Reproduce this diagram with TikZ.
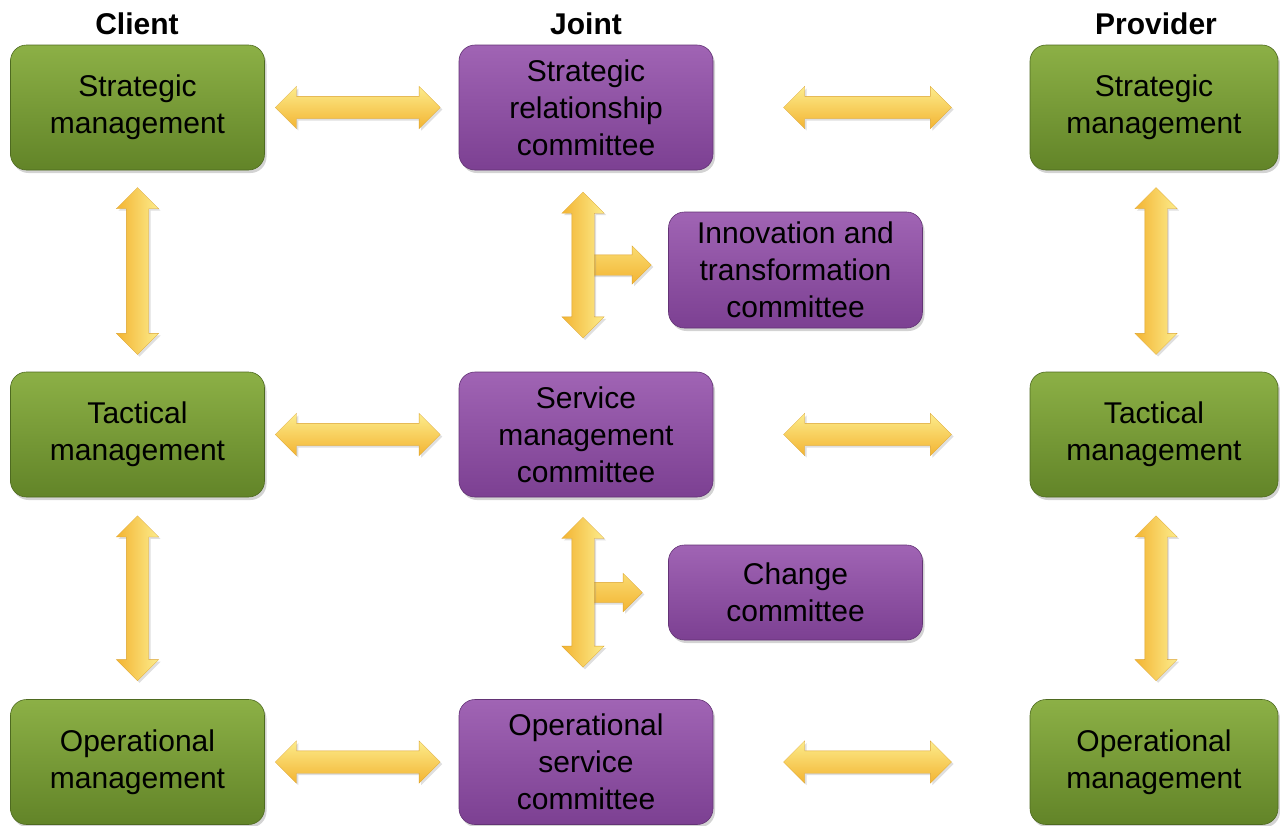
\documentclass[tikz,border=0pt]{standalone}
\usepackage{fontspec}
\setmainfont{Liberation Sans}
\usetikzlibrary{shapes.arrows,shadows,calc}
\definecolor{gtop}{RGB}{140,176,70}
\definecolor{gbot}{RGB}{98,132,40}
\definecolor{ptop}{RGB}{160,100,180}
\definecolor{pbot}{RGB}{124,64,146}
\definecolor{alight}{RGB}{252,236,140}
\definecolor{adark}{RGB}{243,180,50}
\tikzset{
  box/.style={rounded corners=16pt, minimum width=254pt, minimum height=125pt,
    align=center, font=\fontsize{30}{37}\selectfont, text=black,
    drop shadow={opacity=0.35, shadow xshift=2pt, shadow yshift=-3pt}},
  gbox/.style={box, top color=gtop, bottom color=gbot, draw=gbot!80!black, line width=0.6pt},
  pbox/.style={box, top color=ptop, bottom color=pbot, draw=pbot!80!black, line width=0.6pt},
  head/.style={font=\bfseries\fontsize{30}{36}\selectfont},
  arr/.style={inner sep=11pt, minimum width=0pt, draw=adark!90!black, line width=0.3pt,
    drop shadow={opacity=0.25, shadow xshift=2pt, shadow yshift=-2pt}},
  harrow/.style={arr, double arrow, double arrow head extend=10pt,
    top color=alight, bottom color=adark},
  varrow/.style={arr, double arrow, double arrow head extend=10pt, shape border rotate=90,
    left color=adark, right color=alight},
  sarrow/.style={arr, single arrow, single arrow head extend=9pt, inner sep=10pt,
    top color=alight!70!adark, bottom color=adark},
}
\begin{document}
\begin{tikzpicture}[x=1pt,y=-1pt]
\useasboundingbox (0,0) rectangle (1280,825);
% headers
\node[head] (hc) at (137,24) {Client};
\node[head] (hj) at (586,24) {Joint};
\node[head] (hp) at (1156,24) {Provider};
% client
\node[gbox] (cs) at (137.5,107.5) {Strategic\\management};
\node[gbox] (ct) at (137.5,434.5) {Tactical\\management};
\node[gbox] (co) at (137.5,762) {Operational\\management};
% joint
\node[pbox] (js) at (586,107.5) {Strategic\\relationship\\committee};
\node[pbox] (jt) at (586,434.5) {Service\\management\\committee};
\node[pbox] (jo) at (586,762) {Operational\\service\\committee};
\node[pbox, minimum height=116pt] (ji) at (795.5,270) {Innovation and\\transformation\\committee};
\node[pbox, minimum height=95pt] (jc) at (795.5,592.5) {Change\\committee};
% provider
\node[gbox, minimum width=248pt] (ps) at (1154,107.5) {Strategic\\management};
\node[gbox, minimum width=248pt] (pt) at (1154,434.5) {Tactical\\management};
\node[gbox, minimum width=248pt] (po) at (1154,762) {Operational\\management};
% horizontal arrows
\foreach \l/\m/\r in {cs/js/ps, ct/jt/pt, co/jo/po}{
  \node[harrow, minimum height=165pt] (h\l) at ($(\l.east)!0.5!(\m.west)+(-4,0)$) {};
  \node[harrow, minimum height=168pt] (h\r) at ($(\m.east)!0.5!(\r.west)+(-4,0)$) {};
}
% vertical arrows client / provider
\node[varrow, minimum height=167pt] (v1) at ($(cs.south)!0.5!(ct.north)$) {};
\node[varrow, minimum height=165pt] (v2) at ($(ct.south)!0.5!(co.north)$) {};
\node[varrow, minimum height=167pt] (v3) at ($(ps.south)!0.5!(pt.north)+(2,0)$) {};
\node[varrow, minimum height=165pt] (v4) at ($(pt.south)!0.5!(po.north)+(2,0)$) {};
% joint T arrows
\node[sarrow, minimum height=60pt] (b1) at ($(ji.west)+(-52,-5)$) {};
\node[varrow, minimum height=146pt] (v5) at ($(js.south)!0.5!(jt.north)+(-3,-6)$) {};
\node[sarrow, minimum height=54pt] (b2) at ($(jc.west)+(-58,0)$) {};
\node[varrow, minimum height=150pt] (v6) at ($(jt.south)!0.5!(jo.north)+(-3,-6)$) {};
\end{tikzpicture}
\end{document}
